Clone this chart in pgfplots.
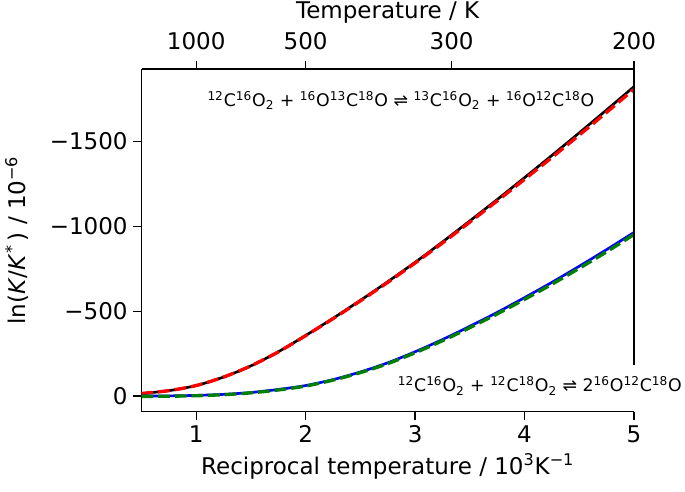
\documentclass[border=0pt]{standalone}
\usepackage{fontspec}
\setmainfont{DejaVu Sans}
\usepackage{pgfplots}
\pgfplotsset{compat=1.18}

\newcommand{\iso}[2]{\textsuperscript{#1}#2}
\newcommand{\tfont}{\fontsize{13.8}{16}\selectfont}
\newcommand{\afont}{\fontsize{10.4}{12}\selectfont}

\pgfplotsset{
  common/.style={
    scale only axis, width=295.5pt, height=205.6pt,
    xmin=0.5, xmax=5, ymin=-1927, ymax=92, y dir=reverse,
    tick align=outside, major tick length=4.8pt,
    axis line style={line width=0.8pt}, every tick/.style={black, line width=0.8pt},
    tick label style={font=\tfont},
    /pgf/number format/assume math mode=true,
  }
}

\begin{document}
\begin{tikzpicture}
\useasboundingbox (-84.9pt,-47.6pt) rectangle (326.1pt,247pt);
\begin{axis}[common,
  axis x line*=bottom, axis y line*=left,
  clip=false,
  xtick={1,2,3,4,5},
  ytick={-1500,-1000,-500,0}, yticklabels={−1500,−1000,−500,0},
  xlabel={Reciprocal temperature / 10\textsuperscript{3}K\textsuperscript{−1}},
  ylabel={ln(\textit{K}/\textit{K}\textsuperscript{*}\,) / 10\textsuperscript{−6}},
  every axis x label/.style={at={(axis description cs:0.5,-0.1605)}, anchor=center, font=\tfont},
  every axis y label/.style={at={(axis description cs:-0.2528,0.5)}, rotate=90, anchor=center, font=\tfont},
]
% 12C16O2 + 16O13C18O exchange
\addplot[black, line width=1.6pt, smooth] coordinates {
  (0.5,-15) (0.75,-32) (1.0,-62) (1.25,-112) (1.5,-178) (1.75,-261)
  (2.0,-357) (2.25,-458) (2.5,-564) (2.75,-674) (3.0,-788) (3.25,-908)
  (3.5,-1032) (3.75,-1158) (4.0,-1287) (4.25,-1418) (4.5,-1551)
  (4.75,-1686) (5.0,-1823)
};
\addplot[red, line width=2pt, smooth, dash pattern=on 7pt off 3pt] coordinates {
  (0.5,-15) (0.75,-32) (1.0,-62) (1.25,-112) (1.5,-178) (1.75,-260)
  (2.0,-356) (2.25,-456) (2.5,-561) (2.75,-670) (3.0,-784) (3.25,-902)
  (3.5,-1025) (3.75,-1150) (4.0,-1277) (4.25,-1406) (4.5,-1538)
  (4.75,-1672) (5.0,-1808)
};
% 12C16O2 + 12C18O2 exchange
\addplot[blue, line width=1.6pt, smooth] coordinates {
  (0.5,0) (0.75,-1) (1.0,-4) (1.25,-10) (1.5,-21) (1.75,-39)
  (2.0,-62) (2.25,-97) (2.5,-142) (2.75,-196) (3.0,-261) (3.25,-333)
  (3.5,-411) (3.75,-493) (4.0,-580) (4.25,-670) (4.5,-765)
  (4.75,-863) (5.0,-964)
};
\addplot[green!50!black, line width=2pt, smooth, dash pattern=on 7pt off 3pt] coordinates {
  (0.5,2) (0.75,1) (1.0,-2) (1.25,-8) (1.5,-19) (1.75,-36)
  (2.0,-59) (2.25,-94) (2.5,-138) (2.75,-191) (3.0,-255) (3.25,-326)
  (3.5,-403) (3.75,-484) (4.0,-570) (4.25,-659) (4.5,-753)
  (4.75,-850) (5.0,-952)
};
% right-hand frame line, stopped above the lower label
\addplot[black, line width=0.8pt] coordinates {(5,-1927) (5,-182)};
\node[font=\afont] at (axis cs:2.87,-1741)
  {\iso{12}{C}\iso{16}{O}\textsubscript{2} + \iso{16}{O}\iso{13}{C}\iso{18}{O} ⇌ \iso{13}{C}\iso{16}{O}\textsubscript{2} + \iso{16}{O}\iso{12}{C}\iso{18}{O}};
\node[font=\afont] at (axis cs:4.14,-59)
  {\iso{12}{C}\iso{16}{O}\textsubscript{2} + \iso{12}{C}\iso{18}{O}\textsubscript{2} ⇌ 2\iso{16}{O}\iso{12}{C}\iso{18}{O}};
\end{axis}
\begin{axis}[common,
  axis x line*=top, axis y line=none,
  xtick={1,2,3.3333,5}, xticklabels={1000,500,300,200},
  xticklabel style={yshift=3pt},
  xlabel={Temperature / K},
  every axis x label/.style={at={(axis description cs:0.5,1.166)}, anchor=center, font=\tfont},
]
\end{axis}
\end{tikzpicture}
\end{document}
